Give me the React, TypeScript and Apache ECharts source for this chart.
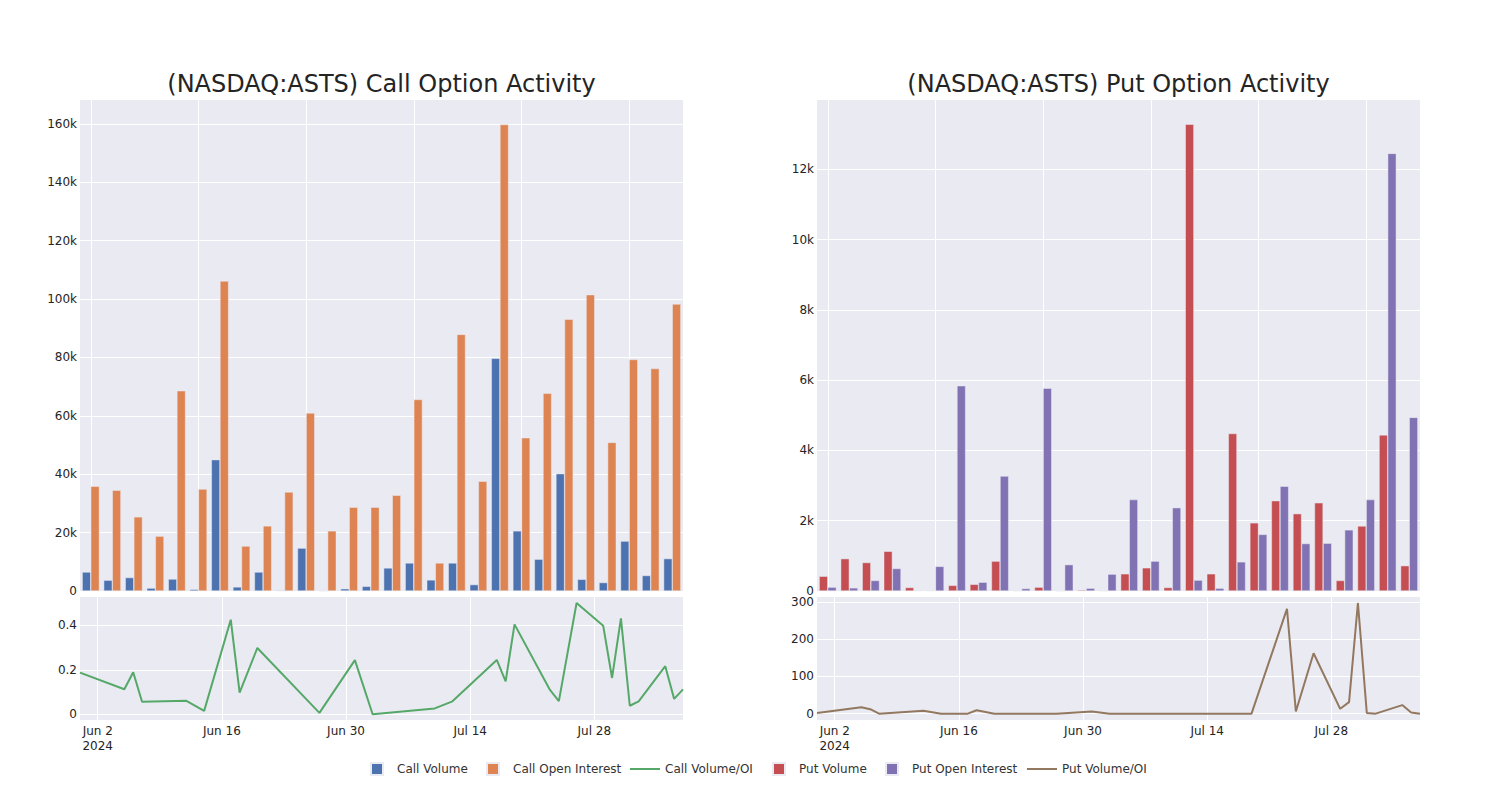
import React, { useEffect, useRef } from 'react';
import * as echarts from 'echarts';

const dates = [
  '2024-05-31', '2024-06-05', '2024-06-06', '2024-06-07', '2024-06-12', '2024-06-14',
  '2024-06-17', '2024-06-18', '2024-06-20', '2024-06-27', '2024-07-01', '2024-07-03',
  '2024-07-10', '2024-07-12', '2024-07-17', '2024-07-18', '2024-07-19', '2024-07-23',
  '2024-07-24', '2024-07-26', '2024-07-29', '2024-07-30', '2024-07-31', '2024-08-01',
  '2024-08-02', '2024-08-05', '2024-08-06', '2024-08-07',
];

const callVolume = [
  6500, 3700, 4600, 1000, 4100, 560, 45000, 1400, 6500, 240, 14700, 20, 770, 1600,
  7900, 9600, 3800, 9600, 2200, 79700, 20600, 10900, 40200, 4000, 2900, 17100, 5300, 11100,
];
const callOpenInterest = [
  35900, 34500, 25400, 18800, 68600, 34900, 106200, 15400, 22300, 33900, 61000, 20600, 28700, 28700,
  32800, 65600, 9600, 87900, 37600, 159800, 52500, 67700, 93100, 101500, 50900, 79300, 76200, 98300,
];
const callVolOI = [
  0.188, 0.113, 0.19, 0.057, 0.061, 0.016, 0.426, 0.098, 0.299, 0.007, 0.244, 0.001, 0.027, 0.059,
  0.245, 0.149, 0.405, 0.11, 0.06, 0.501, 0.399, 0.164, 0.432, 0.039, 0.059, 0.217, 0.07, 0.113,
];

const putVolume = [
  420, 920, 810, 1130, 100, 10, 160, 190, 850, 0, 110, 0, 30, 0,
  490, 660, 100, 13280, 490, 4480, 1940, 2570, 2200, 2510, 300, 1850, 4440, 720,
];
const putOpenInterest = [
  110, 90, 300, 640, 10, 700, 5840, 250, 3270, 70, 5770, 750, 80, 480,
  2600, 850, 2370, 310, 80, 830, 1610, 2980, 1350, 1360, 1740, 2600, 12450, 4940,
];
const putVolOI = [
  1.6, 17.4, 12, 0, 8, 0, 0, 9, 0, 0, 6, 0, 0, 0,
  0, 0, 0, 281, 6, 162, 13, 31, 297, 2, 0, 23, 3, 0,
];

const dateTicks = ['2024-06-02', '2024-06-16', '2024-06-30', '2024-07-14', '2024-07-28'];
const callYTicks = [0, 20000, 40000, 60000, 80000, 100000, 120000, 140000, 160000];
const putYTicks = [0, 2000, 4000, 6000, 8000, 10000, 12000];
const callRatioTicks = [0, 0.2, 0.4];
const putRatioTicks = [0, 100, 200, 300];
const categoryGridTicks = [0, 5, 10, 15, 20, 25];

const MONTHS = ['Jan', 'Feb', 'Mar', 'Apr', 'May', 'Jun', 'Jul', 'Aug', 'Sep', 'Oct', 'Nov', 'Dec'];
const toTs = (s: string) => {
  const [y, m, d] = s.split('-').map(Number);
  return new Date(y, m - 1, d).getTime();
};

const FONT = 'DejaVu Sans';
const TXT = '#242424';
const BG = '#EAEAF2';
const COLORS = ['#4C72B0', '#DD8452', '#55A868', '#C44E52', '#8172B3', '#937860'];

const kFmt = (v: number) => (v === 0 ? '0' : `${Math.round(v / 1000)}k`);

export default function App() {
  const ref = useRef<HTMLDivElement>(null);

  useEffect(() => {
    if (!ref.current) return;
    const chart = echarts.init(ref.current, undefined, { renderer: 'svg' });
    const tickTs = dateTicks.map(toTs);
    const firstTick = tickTs[0];
    const minTs = toTs(dates[0]);
    const maxTs = toTs(dates[dates.length - 1]);

    const labelStyle = { color: TXT, fontSize: 12, fontFamily: FONT };
    const white = { show: true, lineStyle: { color: '#ffffff', width: 1 } };

    const grids = [
      { left: 80, top: 100, width: 603, height: 491 },
      { left: 80, top: 597, width: 603, height: 123 },
      { left: 817, top: 100, width: 603, height: 491 },
      { left: 817, top: 597, width: 603, height: 123 },
    ].map((g) => ({ ...g, show: true, backgroundColor: BG, borderWidth: 0, containLabel: false }));

    const catAxis = (gi: number) => ({
      type: 'category',
      gridIndex: gi,
      data: dates,
      boundaryGap: true,
      axisLabel: { show: false },
      axisTick: { show: false },
      axisLine: { show: false },
      splitLine: { show: false },
    });
    const gridOverlay = (gi: number) => ({
      type: 'value',
      gridIndex: gi,
      position: 'bottom',
      min: -0.5,
      max: dates.length - 0.5,
      axisLabel: { show: false, customValues: categoryGridTicks },
      axisTick: { show: false, customValues: categoryGridTicks },
      axisLine: { show: false },
      splitLine: white,
    });
    const dateAxis = (gi: number) => ({
      type: 'value',
      gridIndex: gi,
      min: minTs,
      max: maxTs,
      axisLine: { show: false },
      axisTick: { show: false, customValues: tickTs },
      axisLabel: {
        ...labelStyle,
        customValues: tickTs,
        margin: 3,
        lineHeight: 15,
        formatter: (v: number) => {
          const d = new Date(v);
          const s = `${MONTHS[d.getMonth()]} ${d.getDate()}`;
          return Math.abs(v - firstTick) < 3600000 ? `${s}\n${d.getFullYear()}` : s;
        },
      },
      splitLine: white,
    });
    const yAxis = (gi: number, min: number, max: number, ticks: number[], fmt: (v: number) => string) => ({
      type: 'value',
      gridIndex: gi,
      min,
      max,
      axisLine: { show: false },
      axisTick: { show: false, customValues: ticks },
      axisLabel: { ...labelStyle, customValues: ticks, margin: 3, formatter: fmt },
      splitLine: white,
    });

    const barCommon = {
      type: 'bar',
      barGap: '0%',
      barCategoryGap: '20%',
    };

    const squareLegend = (name: string, left: number) => ({
      data: [name],
      left,
      top: 762,
      padding: 0,
      icon: 'rect',
      itemWidth: 12,
      itemHeight: 12,
      textStyle: { ...labelStyle, color: '#333', padding: [0, 0, 0, 9] },
    });
    const lineLegend = (name: string, left: number) => ({
      data: [name],
      left,
      top: 763,
      padding: 0,
      icon: 'rect',
      itemWidth: 30,
      itemHeight: 2,
      textStyle: { ...labelStyle, color: '#333' },
    });

    const option = {
      animation: false,
      textStyle: { fontFamily: FONT },
      grid: grids,
      xAxis: [catAxis(0), dateAxis(1), catAxis(2), dateAxis(3), gridOverlay(0), gridOverlay(2)],
      yAxis: [
        yAxis(0, 0, 168200, callYTicks, kFmt),
        yAxis(1, -0.025, 0.528, callRatioTicks, (v: number) => String(v)),
        yAxis(2, 0, 13970, putYTicks, kFmt),
        yAxis(3, -17, 313, putRatioTicks, (v: number) => String(v)),
      ],
      legend: [
        squareLegend('Call Volume', 370),
        squareLegend('Call Open Interest', 486),
        lineLegend('Call Volume/OI', 630),
        squareLegend('Put Volume', 772),
        squareLegend('Put Open Interest', 885),
        lineLegend('Put Volume/OI', 1027),
      ],
      graphic: [
        {
          type: 'text',
          x: 381.5,
          y: 84,
          style: {
            text: '(NASDAQ:ASTS) Call Option Activity',
            fontSize: 24,
            fontFamily: FONT,
            fill: TXT,
            textAlign: 'center',
            textVerticalAlign: 'middle',
          },
        },
        {
          type: 'text',
          x: 1118.5,
          y: 84,
          style: {
            text: '(NASDAQ:ASTS) Put Option Activity',
            fontSize: 24,
            fontFamily: FONT,
            fill: TXT,
            textAlign: 'center',
            textVerticalAlign: 'middle',
          },
        },
      ],
      series: [
        {
          ...barCommon,
          name: 'Call Volume',
          xAxisIndex: 0,
          yAxisIndex: 0,
          data: callVolume,
          itemStyle: { color: COLORS[0], borderColor: BG, borderWidth: 0.5 },
        },
        {
          ...barCommon,
          name: 'Call Open Interest',
          xAxisIndex: 0,
          yAxisIndex: 0,
          data: callOpenInterest,
          itemStyle: { color: COLORS[1], borderColor: BG, borderWidth: 0.5 },
        },
        {
          type: 'line',
          name: 'Call Volume/OI',
          xAxisIndex: 1,
          yAxisIndex: 1,
          data: dates.map((d, i) => [toTs(d), callVolOI[i]]),
          symbol: 'none',
          showSymbol: false,
          lineStyle: { color: COLORS[2], width: 2 },
          itemStyle: { color: COLORS[2] },
        },
        {
          ...barCommon,
          name: 'Put Volume',
          xAxisIndex: 2,
          yAxisIndex: 2,
          data: putVolume,
          itemStyle: { color: COLORS[3], borderColor: BG, borderWidth: 0.5 },
        },
        {
          ...barCommon,
          name: 'Put Open Interest',
          xAxisIndex: 2,
          yAxisIndex: 2,
          data: putOpenInterest,
          itemStyle: { color: COLORS[4], borderColor: BG, borderWidth: 0.5 },
        },
        {
          type: 'line',
          name: 'Put Volume/OI',
          xAxisIndex: 3,
          yAxisIndex: 3,
          data: dates.map((d, i) => [toTs(d), putVolOI[i]]),
          symbol: 'none',
          showSymbol: false,
          lineStyle: { color: COLORS[5], width: 2 },
          itemStyle: { color: COLORS[5] },
        },
      ],
    };

    chart.setOption(option as any);
    return () => {
      chart.dispose();
    };
  }, []);

  return (
    <div
      ref={ref}
      style={{ position: 'fixed', left: 0, top: 0, width: 1500, height: 800, background: '#ffffff' }}
    />
  );
}
